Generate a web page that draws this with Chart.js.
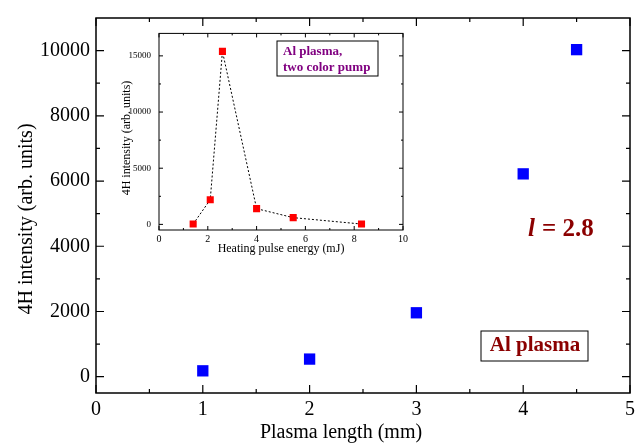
<!DOCTYPE html>
<html>
<head>
<meta charset="utf-8">
<script src="https://cdn.jsdelivr.net/npm/chart.js@4/dist/chart.umd.min.js"></script>
<style>
  body { margin: 0; background: #fff; }
  #wrap { position: relative; width: 643px; height: 445px; }
  #main { position: absolute; left: 0; top: 0; }
  #inset { position: absolute; left: 110px; top: 20px; }
</style>
</head>
<body>
<div id="wrap">
  <canvas id="main" width="643" height="445"></canvas>
  <canvas id="inset" width="305" height="240"></canvas>
</div>
<script>
// datos del grafico principal: intensidad 4H contra longitud del plasma
const plasmaLength = [1, 2, 3, 4, 4.5];
const intensity4H = [180, 540, 1960, 6220, 10030];

// datos del recuadro: intensidad contra energia del pulso de calentamiento
const pulseEnergy = [1.4, 2.1, 2.6, 4.0, 5.5, 8.3];
const insetIntensity = [30, 2200, 15400, 1400, 600, 30];

// marcas de los ejes
const mainXTicks = [0, 1, 2, 3, 4, 5];
const mainXMinor = [0.5, 1.5, 2.5, 3.5, 4.5];
const mainYTicks = [0, 2000, 4000, 6000, 8000, 10000];
const mainYMinor = [1000, 3000, 5000, 7000, 9000];
const insetXTicks = [0, 2, 4, 6, 8, 10];
const insetXMinor = [1, 3, 5, 7, 9];
const insetYTicks = [0, 5000, 10000, 15000];
const insetYMinor = [2500, 7500, 12500];

const serif = "'Liberation Serif', 'DejaVu Serif', serif";
const plain = v => String(v); // sin separador de miles

// marco con marcas hacia adentro en los cuatro lados
const frameTicks = {
  id: "frameTicks",
  afterDraw(chart, args, opts) {
    const { ctx, chartArea: a } = chart;
    const x = chart.scales.x, y = chart.scales.y;
    ctx.save();
    ctx.strokeStyle = "#000";
    ctx.lineWidth = opts.lineWidth;
    ctx.strokeRect(a.left, a.top, a.right - a.left, a.bottom - a.top);
    ctx.lineWidth = opts.tickWidth;
    ctx.beginPath();
    const vx = (v, len) => {
      const px = x.getPixelForValue(v);
      ctx.moveTo(px, a.bottom); ctx.lineTo(px, a.bottom - len);
      ctx.moveTo(px, a.top); ctx.lineTo(px, a.top + len);
    };
    const hy = (v, len) => {
      const py = y.getPixelForValue(v);
      ctx.moveTo(a.left, py); ctx.lineTo(a.left + len, py);
      ctx.moveTo(a.right, py); ctx.lineTo(a.right - len, py);
    };
    opts.xMajor.forEach(v => vx(v, opts.major));
    opts.xMinor.forEach(v => vx(v, opts.minor));
    opts.yMajor.forEach(v => hy(v, opts.major));
    opts.yMinor.forEach(v => hy(v, opts.minor));
    ctx.stroke();
    ctx.restore();
  }
};

// textos: titulos de ejes y etiquetas
const labels = {
  id: "labels",
  afterDraw(chart, args, opts) {
    const ctx = chart.ctx;
    ctx.save();
    (opts.items || []).forEach(t => {
      ctx.font = t.font;
      ctx.fillStyle = t.color || "#000";
      ctx.textAlign = t.align || "center";
      ctx.textBaseline = "middle";
      ctx.save();
      ctx.translate(t.x, t.y);
      if (t.rotate) ctx.rotate(t.rotate);
      ctx.fillText(t.text, 0, 0);
      ctx.restore();
    });
    (opts.boxes || []).forEach(b => {
      ctx.lineWidth = b.lineWidth || 1;
      ctx.strokeStyle = "#000";
      ctx.strokeRect(b.x, b.y, b.w, b.h);
    });
    if (opts.custom) opts.custom(ctx);
    ctx.restore();
  }
};

new Chart(document.getElementById("main"), {
  type: "scatter",
  data: {
    datasets: [{
      data: plasmaLength.map((v, i) => ({ x: v, y: intensity4H[i] })),
      pointStyle: "rect",
      pointRadius: 8,
      pointHoverRadius: 8,
      backgroundColor: "#0000ff",
      borderColor: "#0000ff",
      borderWidth: 0
    }]
  },
  options: {
    responsive: false,
    animation: false,
    devicePixelRatio: 1,
    layout: { padding: { top: 12, right: 13, left: 0, bottom: 0 } },
    plugins: {
      legend: { display: false },
      tooltip: { enabled: false },
      frameTicks: {
        lineWidth: 1.5, tickWidth: 1.2, major: 8, minor: 4,
        xMajor: mainXTicks, xMinor: mainXMinor, yMajor: mainYTicks, yMinor: mainYMinor
      },
      labels: {
        items: [
          { text: "Plasma length (mm)", x: 341, y: 433, font: "20px " + serif },
          { text: "4H intensity (arb. units)", x: 27, y: 219, font: "20px " + serif, rotate: -Math.PI / 2 },
          { text: "Al plasma", x: 535, y: 346, font: "bold 21px " + serif, color: "#8b0000" }
        ],
        boxes: [{ x: 481, y: 331, w: 107, h: 30, lineWidth: 1 }],
        custom(ctx) {
          ctx.fillStyle = "#8b0000";
          ctx.textBaseline = "middle";
          ctx.textAlign = "left";
          ctx.font = "italic bold 25px " + serif;
          ctx.fillText("l", 528, 230);
          ctx.font = "bold 25px " + serif;
          ctx.fillText("= 2.8", 542, 230);
        }
      }
    },
    scales: {
      x: {
        type: "linear", min: 0, max: 5,
        afterBuildTicks: s => { s.ticks = mainXTicks.map(v => ({ value: v })); },
        afterFit: s => { s.height = 52; },
        ticks: { font: { family: serif, size: 20 }, color: "#000", padding: 5, callback: plain },
        grid: { display: false, drawTicks: false },
        border: { display: false }
      },
      y: {
        type: "linear", min: -500, max: 11000,
        afterBuildTicks: s => { s.ticks = mainYTicks.map(v => ({ value: v })); },
        afterFit: s => { s.width = 96; },
        ticks: { font: { family: serif, size: 20 }, color: "#000", padding: 6, callback: plain },
        grid: { display: false, drawTicks: false },
        border: { display: false }
      }
    }
  },
  plugins: [frameTicks, labels]
});

new Chart(document.getElementById("inset"), {
  type: "scatter",
  data: {
    datasets: [{
      data: pulseEnergy.map((v, i) => ({ x: v, y: insetIntensity[i] })),
      showLine: true,
      borderColor: "#000",
      borderWidth: 1,
      borderDash: [2, 2],
      pointStyle: "rect",
      pointRadius: 5,
      pointHoverRadius: 5,
      pointBackgroundColor: "#ff0000",
      pointBorderColor: "#ff0000",
      pointBorderWidth: 0
    }]
  },
  options: {
    responsive: false,
    animation: false,
    devicePixelRatio: 1,
    layout: { padding: { top: 8, right: 12, left: 0, bottom: 0 } },
    plugins: {
      legend: { display: false },
      tooltip: { enabled: false },
      frameTicks: {
        lineWidth: 1, tickWidth: 1, major: 4, minor: 2,
        xMajor: insetXTicks, xMinor: insetXMinor, yMajor: insetYTicks, yMinor: insetYMinor
      },
      labels: {
        items: [
          { text: "Heating pulse energy (mJ)", x: 171, y: 229, font: "12px " + serif },
          { text: "4H intensity (arb. units)", x: 17, y: 118, font: "12px " + serif, rotate: -Math.PI / 2 },
          { text: "Al plasma,", x: 173, y: 32, font: "bold 13px " + serif, color: "#800080", align: "left" },
          { text: "two color pump", x: 173, y: 48, font: "bold 13px " + serif, color: "#800080", align: "left" }
        ],
        boxes: [{ x: 167, y: 21, w: 101, h: 35 }]
      }
    },
    scales: {
      x: {
        type: "linear", min: 0, max: 10,
        afterBuildTicks: s => { s.ticks = insetXTicks.map(v => ({ value: v })); },
        afterFit: s => { s.height = 30; },
        ticks: { font: { family: serif, size: 10 }, color: "#000", padding: 3, maxRotation: 0, callback: plain },
        grid: { display: false, drawTicks: false },
        border: { display: false }
      },
      y: {
        type: "linear", min: -500, max: 17000,
        afterBuildTicks: s => { s.ticks = insetYTicks.map(v => ({ value: v })); },
        afterFit: s => { s.width = 49; },
        ticks: { font: { family: serif, size: 9 }, color: "#000", padding: 8, callback: plain },
        grid: { display: false, drawTicks: false },
        border: { display: false }
      }
    }
  },
  plugins: [frameTicks, labels]
});
</script>
</body>
</html>
